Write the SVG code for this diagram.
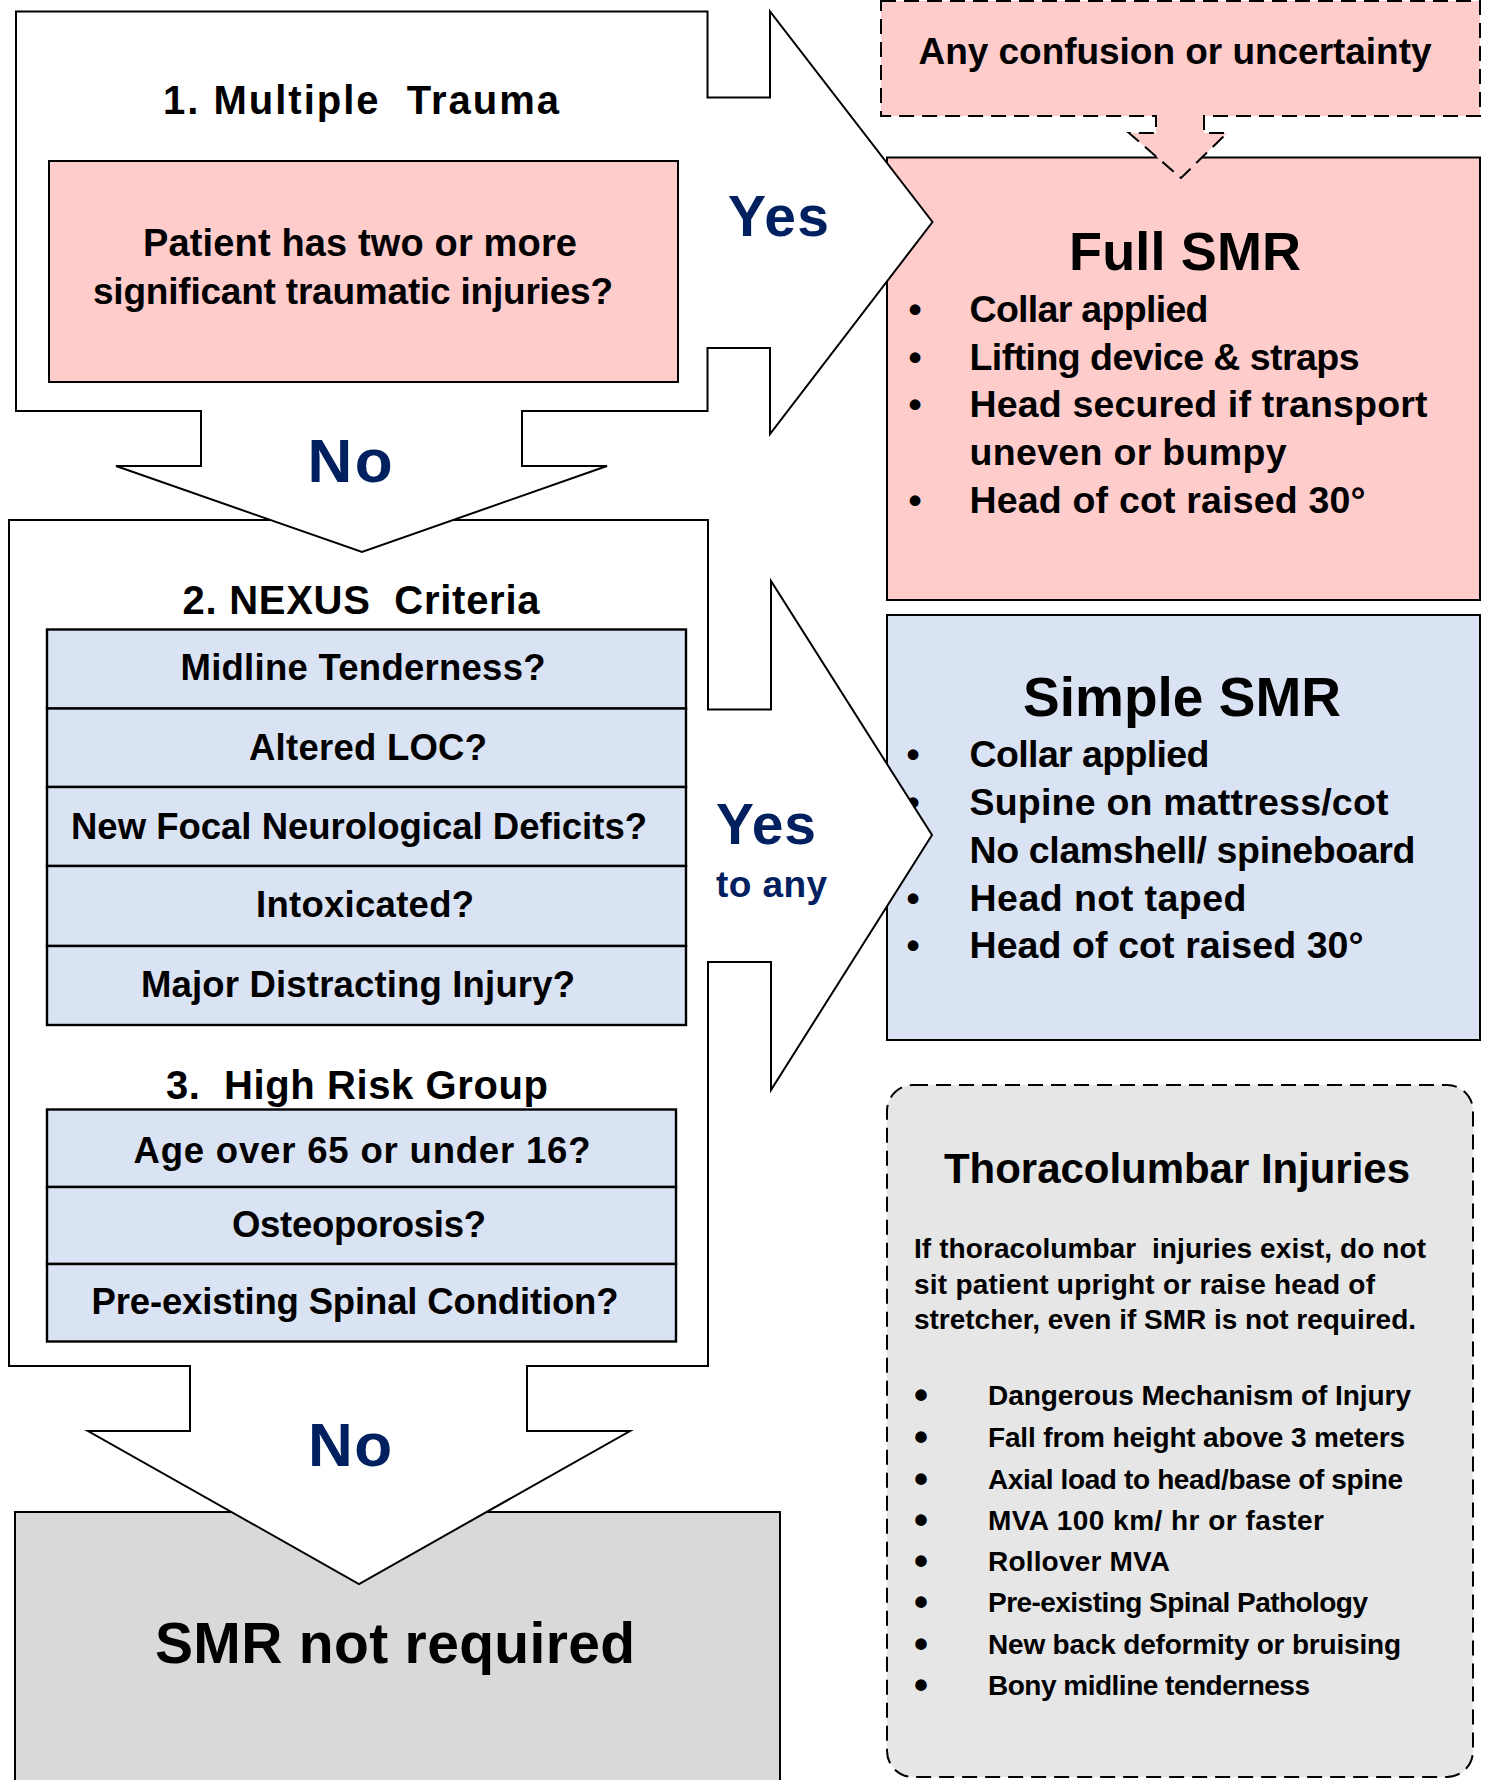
<svg xmlns="http://www.w3.org/2000/svg" width="1486" height="1780" viewBox="0 0 1486 1780">
<style>
text{font-family:"Liberation Sans",Arial,sans-serif;font-weight:bold;fill:#000}
.c{text-anchor:middle}
.pre{white-space:pre}
.navy{fill:#002060}
.ln{stroke:#000;stroke-width:2;stroke-linejoin:miter}
.dash{stroke:#000;stroke-width:2;stroke-dasharray:15 8}
.pink{fill:#FFCCCC}
.blue{fill:#DAE3F3}
.b37{font-size:37.5px}
.t28{font-size:28px}
.bul{font-size:40px}
.row{fill:#DAE3F3;stroke:#000;stroke-width:2.4}
.row text{font-size:36.5px}
</style>
<rect width="1486" height="1780" fill="#fff"/>

<g id="smr-not-required">
<rect x="15" y="1512" width="765" height="300" fill="#D9D9D9" class="ln"/>
<text x="395" y="1663" class="c" font-size="57" textLength="480">SMR not required</text>
</g>

<g id="simple-smr">
<rect x="887" y="615" width="593" height="425" class="blue ln"/>
<text x="1182" y="716" class="c" font-size="55" textLength="318">Simple SMR</text>
<g class="b37">
<text x="913" y="767" class="c">•</text>
<text x="913" y="815" class="c">•</text>
<text x="913" y="911" class="c">•</text>
<text x="913" y="958" class="c">•</text>
<text x="969.5" y="767" textLength="240">Collar applied</text>
<text x="969.5" y="815" textLength="419">Supine on mattress/cot</text>
<text x="969.5" y="863" textLength="446">No clamshell/ spineboard</text>
<text x="969.5" y="911" textLength="277">Head not taped</text>
<text x="969.5" y="958" textLength="394">Head of cot raised 30°</text>
</g>
</g>

<g id="full-smr">
<rect x="887" y="157.5" width="593" height="442.5" class="pink ln"/>
<text x="1185" y="270" class="c" font-size="54" textLength="232">Full SMR</text>
<g class="b37">
<text x="915" y="322" class="c">•</text>
<text x="915" y="369.5" class="c">•</text>
<text x="915" y="417" class="c">•</text>
<text x="915" y="513" class="c">•</text>
<text x="969.5" y="322" textLength="239">Collar applied</text>
<text x="969.5" y="369.5" textLength="390">Lifting device &amp; straps</text>
<text x="969.5" y="417" textLength="458">Head secured if transport</text>
<text x="969.5" y="465" textLength="317">uneven or bumpy</text>
<text x="969.5" y="513" textLength="396">Head of cot raised 30°</text>
</g>
</g>

<g id="thoracolumbar">
<rect x="887" y="1085" width="586" height="692" rx="26" ry="26" fill="#E6E6E6" class="dash"/>
<text x="1177" y="1183" class="c" font-size="42" textLength="466">Thoracolumbar Injuries</text>
<g class="t28">
<text x="914" y="1257.5" class="pre" textLength="512">If thoracolumbar  injuries exist, do not</text>
<text x="914" y="1293.5" textLength="461">sit patient upright or raise head of</text>
<text x="914" y="1329" textLength="502">stretcher, even if SMR is not required.</text>
<text x="988" y="1405" textLength="423">Dangerous Mechanism of Injury</text>
<text x="988" y="1447" textLength="417">Fall from height above 3 meters</text>
<text x="988" y="1488.5" textLength="415">Axial load to head/base of spine</text>
<text x="988" y="1530" textLength="336">MVA 100 km/ hr or faster</text>
<text x="988" y="1571" textLength="182">Rollover MVA</text>
<text x="988" y="1612" textLength="380">Pre-existing Spinal Pathology</text>
<text x="988" y="1654" textLength="413">New back deformity or bruising</text>
<text x="988" y="1695" textLength="322">Bony midline tenderness</text>
</g>
<g class="bul">
<text x="921" y="1409" class="c">•</text>
<text x="921" y="1451" class="c">•</text>
<text x="921" y="1492.5" class="c">•</text>
<text x="921" y="1534" class="c">•</text>
<text x="921" y="1575" class="c">•</text>
<text x="921" y="1616" class="c">•</text>
<text x="921" y="1658" class="c">•</text>
<text x="921" y="1699" class="c">•</text>
</g>
</g>

<g id="step2-nexus-highrisk">
<path class="ln" fill="#fff" d="M9,520 H708 V709.5 H771 V581 L932,835 L771,1090 V962 H708 V1366 H527 V1431 H630 L359,1584 L88,1431 H190 V1366 H9 Z"/>
<text x="361" y="614" class="c pre" font-size="40" textLength="357">2. NEXUS  Criteria</text>
<g class="row">
<rect x="47" y="629.5" width="639" height="79"/>
<rect x="47" y="708.5" width="639" height="78.5"/>
<rect x="47" y="787" width="639" height="79"/>
<rect x="47" y="866" width="639" height="80"/>
<rect x="47" y="946" width="639" height="79"/>
<text x="363" y="680" class="c" stroke="none" textLength="365">Midline Tenderness?</text>
<text x="368" y="760" class="c" stroke="none" textLength="238">Altered LOC?</text>
<text x="359" y="839" class="c" stroke="none" textLength="576">New Focal Neurological Deficits?</text>
<text x="365" y="917" class="c" stroke="none" textLength="218">Intoxicated?</text>
<text x="358" y="997" class="c" stroke="none" textLength="434">Major Distracting Injury?</text>
</g>
<text x="357" y="1099" class="c pre" font-size="40" textLength="382">3.  High Risk Group</text>
<g class="row">
<rect x="47" y="1109.5" width="629" height="77.5"/>
<rect x="47" y="1187" width="629" height="77"/>
<rect x="47" y="1264" width="629" height="77.5"/>
<text x="362" y="1163" class="c" stroke="none" textLength="457">Age over 65 or under 16?</text>
<text x="359" y="1237" class="c" stroke="none" textLength="254">Osteoporosis?</text>
<text x="355" y="1314" class="c" stroke="none" textLength="527">Pre-existing Spinal Condition?</text>
</g>
</g>

<g id="step1-multiple-trauma">
<path class="ln" fill="#fff" d="M16,11.5 H707.5 V97.5 H770 V11.5 L932.5,222 L770,434 V348 H707.5 V411 H522 V466 H607 L362,552 L116,466 H201 V411 H16 Z"/>
<text x="361" y="114" class="c pre" font-size="40" textLength="396">1. Multiple  Trauma</text>
<rect x="49" y="161" width="629" height="221" class="pink ln"/>
<text x="360" y="256" class="c" font-size="38" textLength="434">Patient has two or more</text>
<text x="353" y="304" class="c" font-size="37" textLength="520">significant traumatic injuries?</text>
</g>

<g id="any-confusion">
<path class="pink dash" d="M881,1 H1480 V116 H1204 V133 H1227 L1181,178 L1129,133 H1156 V116 H881 Z"/>
<text x="1175" y="64" class="c" font-size="37" textLength="513">Any confusion or uncertainty</text>
</g>

<g id="connectors">
<text x="350" y="482" class="c navy" font-size="62" textLength="85">No</text>
<text x="728" y="236" class="navy" font-size="57" textLength="101">Yes</text>
<text x="716" y="844" class="navy" font-size="57" textLength="100">Yes</text>
<text x="716" y="897" class="navy" font-size="37" textLength="111">to any</text>
<text x="350" y="1466" class="c navy" font-size="62" textLength="84">No</text>
</g>
</svg>
